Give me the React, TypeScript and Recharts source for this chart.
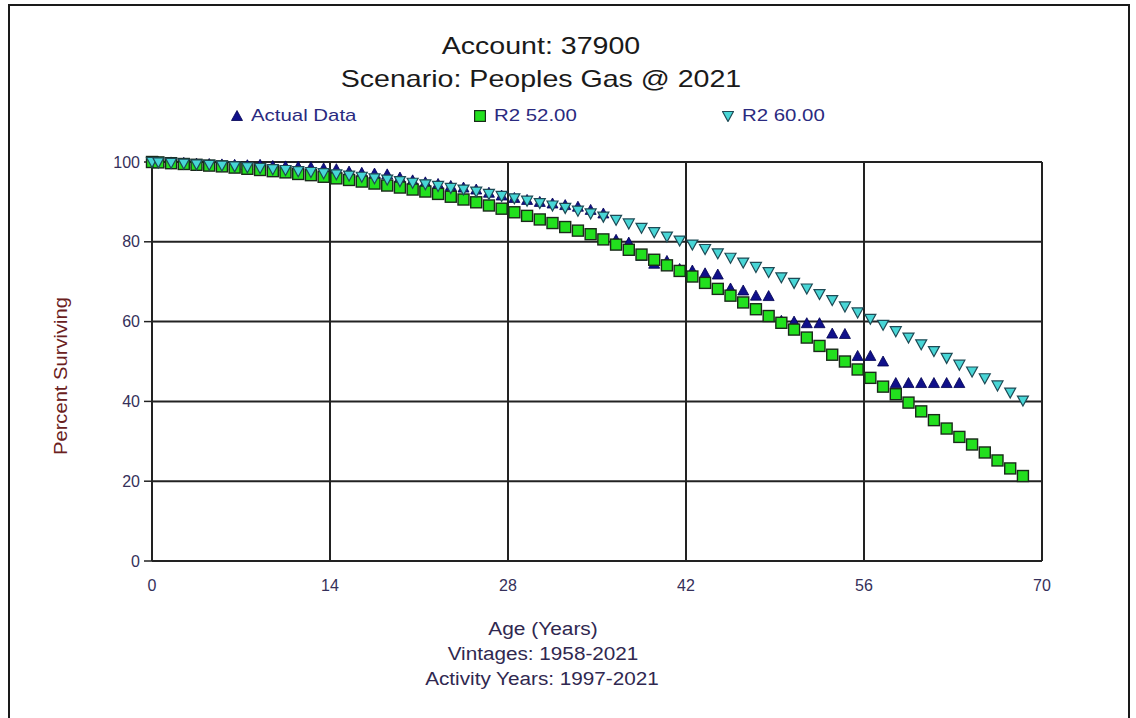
import { ScatterChart, Scatter, XAxis, YAxis, CartesianGrid } from "recharts";

// ages in years where survivor percentages are plotted
const AGES = [
  0, 0.5, 1.5, 2.5, 3.5, 4.5, 5.5, 6.5, 7.5, 8.5, 9.5, 10.5, 11.5, 12.5, 13.5,
  14.5, 15.5, 16.5, 17.5, 18.5, 19.5, 20.5, 21.5, 22.5, 23.5, 24.5, 25.5, 26.5,
  27.5, 28.5, 29.5, 30.5, 31.5, 32.5, 33.5, 34.5, 35.5, 36.5, 37.5, 38.5, 39.5,
  40.5, 41.5, 42.5, 43.5, 44.5, 45.5, 46.5, 47.5, 48.5, 49.5, 50.5, 51.5, 52.5,
  53.5, 54.5, 55.5, 56.5, 57.5, 58.5, 59.5, 60.5, 61.5, 62.5, 63.5, 64.5, 65.5,
  66.5, 67.5, 68.5,
];

// observed survivors, ages 0 .. 63.5
const ACTUAL = [
  100, 100, 99.9, 99.8, 99.6, 99.5, 99.4, 99.3, 99.2, 99.3, 99.0, 98.9, 98.8,
  98.7, 98.4, 98.2, 97.6, 97.3, 97.1, 96.9, 96.1, 95.4, 94.9, 94.5, 94.0, 93.6,
  93.1, 92.3, 91.6, 91.0, 90.5, 90.0, 89.6, 89.2, 88.8, 88.0, 87.1, 80.5, 79.8,
  76.5, 74.5, 75.2, 73.2, 72.8, 72.1, 71.8, 68.3, 67.8, 66.5, 66.4, 60.2, 60.0,
  59.6, 59.6, 57.0, 56.9, 51.4, 51.4, 50.0, 44.6, 44.6, 44.6, 44.6, 44.6, 44.6,
];

// R2 curve, 52 year average life
const R2_52 = [
  100, 99.9, 99.7, 99.5, 99.3, 99.1, 98.9, 98.6, 98.3, 98.0, 97.7, 97.4, 97.0,
  96.7, 96.3, 95.9, 95.5, 95.1, 94.6, 94.1, 93.6, 93.1, 92.6, 92.0, 91.3, 90.6,
  89.9, 89.1, 88.3, 87.4, 86.5, 85.6, 84.7, 83.7, 82.8, 81.9, 80.6, 79.3, 78.0,
  76.8, 75.5, 74.1, 72.7, 71.3, 69.7, 68.2, 66.5, 64.8, 63.1, 61.4, 59.7, 58.0,
  56.0, 53.9, 51.7, 50.0, 48.0, 45.9, 43.7, 41.8, 39.7, 37.5, 35.3, 33.2, 31.1,
  29.2, 27.2, 25.2, 23.2, 21.3,
];

// R2 curve, 60 year average life
const R2_60 = [
  100, 99.9, 99.8, 99.6, 99.4, 99.3, 99.1, 98.9, 98.7, 98.5, 98.2, 98.0, 97.7,
  97.5, 97.2, 96.9, 96.6, 96.3, 95.9, 95.6, 95.2, 94.8, 94.4, 94.0, 93.5, 93.1,
  92.6, 92.0, 91.5, 90.9, 90.3, 89.7, 89.1, 88.5, 87.8, 87.1, 86.3, 85.5, 84.6,
  83.5, 82.4, 81.3, 80.3, 79.3, 78.2, 77.1, 76.0, 74.8, 73.7, 72.4, 71.1, 69.7,
  68.3, 66.9, 65.4, 63.8, 62.3, 60.7, 59.2, 57.6, 56.0, 54.3, 52.6, 50.9, 49.2,
  47.5, 45.8, 44.0, 42.2, 40.2,
];

const X_TICKS = [0, 14, 28, 42, 56, 70];
const Y_TICKS = [0, 20, 40, 60, 80, 100];

const toPoints = (vals: number[]) => vals.map((v, i) => ({ x: AGES[i], y: v }));

const FONT = "'Liberation Sans', Arial, sans-serif";

const UpTri = (props: any) => {
  const { cx, cy } = props;
  return (
    <polygon
      points={`${cx},${cy - 5.5} ${cx + 5.5},${cy + 4.5} ${cx - 5.5},${cy + 4.5}`}
      fill="#10108a"
      stroke="#000050"
      strokeWidth={0.8}
    />
  );
};

const Square = (props: any) => {
  const { cx, cy } = props;
  return (
    <rect
      x={cx - 5.5}
      y={cy - 5.5}
      width={11}
      height={11}
      fill="#22e01e"
      stroke="#1a2a1a"
      strokeWidth={1.4}
    />
  );
};

const DownTri = (props: any) => {
  const { cx, cy } = props;
  return (
    <polygon
      points={`${cx - 5.5},${cy - 4.5} ${cx + 5.5},${cy - 4.5} ${cx},${cy + 5.5}`}
      fill="#48d6d6"
      stroke="#1e4a55"
      strokeWidth={1.2}
    />
  );
};

const Text = ({ x, y, size, color, stretch, children }: any) => (
  <div
    style={{
      position: "absolute",
      left: x - 300,
      top: y - size * 0.6,
      width: 600,
      textAlign: "center",
      fontSize: size,
      lineHeight: `${size * 1.2}px`,
      color,
      fontFamily: FONT,
      transform: `scaleX(${stretch})`,
      whiteSpace: "nowrap",
    }}
  >
    {children}
  </div>
);

const LegendItem = ({ x, marker, label }: any) => (
  <div
    style={{
      position: "absolute",
      left: x,
      top: 106,
      display: "flex",
      alignItems: "center",
      fontFamily: FONT,
      fontSize: 17,
      color: "#2a2a80",
    }}
  >
    <svg width={12} height={12} style={{ marginRight: 8 }}>
      {marker}
    </svg>
    <span style={{ display: "inline-block", transform: "scaleX(1.2)", transformOrigin: "left" }}>
      {label}
    </span>
  </div>
);

export default function App() {
  return (
    <div
      style={{
        position: "absolute",
        left: 0,
        top: 0,
        width: 1136,
        height: 718,
        overflow: "hidden",
        background: "#fff",
      }}
    >
      <div
        style={{
          position: "absolute",
          left: 8,
          top: 4,
          width: 1118,
          height: 740,
          border: "2px solid #1a1a1a",
        }}
      />
      <ScatterChart
        width={1136}
        height={718}
        margin={{ top: 162, right: 94, bottom: 127, left: 92 }}
        style={{ position: "absolute", left: 0, top: 0 }}
      >
        <CartesianGrid stroke="#222" strokeWidth={2} />
        <XAxis
          type="number"
          dataKey="x"
          domain={[0, 70]}
          ticks={X_TICKS}
          interval={0}
          height={30}
          tickLine={false}
          tickSize={6}
          tickMargin={13}
          axisLine={{ stroke: "#222", strokeWidth: 2 }}
          tick={{ fill: "#35305a", fontSize: 16, fontFamily: FONT }}
        />
        <YAxis
          type="number"
          dataKey="y"
          domain={[0, 100]}
          ticks={Y_TICKS}
          interval={0}
          width={60}
          tickSize={8}
          tickMargin={4}
          tickLine={{ stroke: "#222", strokeWidth: 1.5 }}
          axisLine={{ stroke: "#222", strokeWidth: 2 }}
          tick={{ fill: "#35305a", fontSize: 16, fontFamily: FONT }}
        />
        <Scatter
          name="Actual Data"
          data={toPoints(ACTUAL)}
          shape={<UpTri />}
          isAnimationActive={false}
        />
        <Scatter
          name="R2 52.00"
          data={toPoints(R2_52)}
          shape={<Square />}
          isAnimationActive={false}
        />
        <Scatter
          name="R2 60.00"
          data={toPoints(R2_60)}
          shape={<DownTri />}
          isAnimationActive={false}
        />
      </ScatterChart>

      <Text x={541} y={46} size={24} color="#1a1a1a" stretch={1.19}>
        Account: 37900
      </Text>
      <Text x={541} y={79} size={24} color="#1a1a1a" stretch={1.19}>
        Scenario: Peoples Gas @ 2021
      </Text>

      <LegendItem x={231} label="Actual Data" marker={<UpTri cx={6} cy={6} />} />
      <LegendItem x={474} label="R2 52.00" marker={<Square cx={6} cy={6} />} />
      <LegendItem x={722} label="R2 60.00" marker={<DownTri cx={6} cy={6} />} />

      <div
        style={{
          position: "absolute",
          left: 61 - 150,
          top: 376 - 12,
          width: 300,
          textAlign: "center",
          fontSize: 18,
          lineHeight: "24px",
          fontFamily: FONT,
          color: "#6a2020",
          transform: "rotate(-90deg) scaleX(1.12)",
          whiteSpace: "nowrap",
        }}
      >
        Percent Surviving
      </div>

      <Text x={543} y={630} size={18} color="#302850" stretch={1.16}>
        Age (Years)
      </Text>
      <Text x={543} y={655} size={18} color="#302850" stretch={1.15}>
        Vintages: 1958-2021
      </Text>
      <Text x={542} y={680} size={18} color="#302850" stretch={1.15}>
        Activity Years: 1997-2021
      </Text>
    </div>
  );
}
